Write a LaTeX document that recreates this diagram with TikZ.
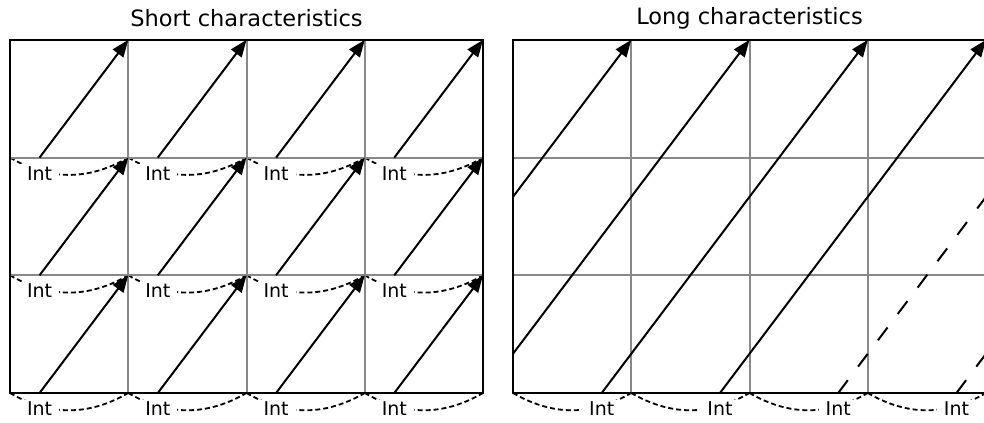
\documentclass[tikz,border=0pt]{standalone}
\usepackage{fontspec}
\setmainfont{DejaVu Sans}
\usetikzlibrary{arrows.meta}

\begin{document}
\begin{tikzpicture}[x=118.25pt,y=117.7pt,font=\fontsize{19}{20}\selectfont,
    charline/.style={line width=2pt,-{Triangle[length=17pt,width=13pt]}},
    charcont/.style={line width=2pt,dash pattern=on 16pt off 17pt},
    interp/.style={line width=1.8pt,dash pattern=on 5pt off 3pt,bend right=30},
    intlabel/.style={fill=white,inner xsep=7pt,inner ysep=2pt},
    gridline/.style={gline,line width=2pt},
    boxline/.style={black,line width=2pt},
    paneltitle/.style={font=\fontsize{22.5}{24}\selectfont}]
  \definecolor{gline}{HTML}{888888}
  \path[use as bounding box] (-0.0846,-0.2464) rectangle (8.2368,3.339);

  % short characteristics
  \node[paneltitle] (shorttitle) at (2,3.186) {Short characteristics};
  \foreach \j in {0,1,2}{
    \foreach \i in {0,...,3}{
      \coordinate (sl-\i-\j) at (\i,\j);
      \coordinate (sr-\i-\j) at (\i+1,\j);
      \coordinate (sf-\i-\j) at (\i+0.25,\j);
      \coordinate (st-\i-\j) at (\i+1,\j+1);
      \draw[interp] (sl-\i-\j) to (sr-\i-\j);
      \node[intlabel] (sint-\i-\j) at ([yshift=-15.5pt]sf-\i-\j) {Int};
    }
  }
  \foreach \i in {1,2,3} \draw[gridline] (\i,0) -- (\i,3);
  \foreach \j in {1,2} \draw[gridline] (0,\j) -- (4,\j);
  \draw[boxline] (0,0) rectangle (4,3);
  \foreach \j in {0,1,2}{
    \foreach \i in {0,...,3}
      \draw[charline] (sf-\i-\j) -- (st-\i-\j);
  }

  % long characteristics
  \begin{scope}[shift={(4.2537,0)}]
    \node[paneltitle] (longtitle) at (2,3.186) {Long characteristics};
    \foreach \i in {0,...,3}{
      \coordinate (ll-\i) at (\i,0);
      \coordinate (lr-\i) at (\i+1,0);
      \coordinate (lf-\i) at (\i+0.75,0);
      \draw[interp] (ll-\i) to (lr-\i);
      \node[intlabel] (lint-\i) at ([yshift=-15.5pt]lf-\i) {Int};
    }
    \foreach \i in {1,2,3} \draw[gridline] (\i,0) -- (\i,3);
    \foreach \j in {1,2} \draw[gridline] (0,\j) -- (4,\j);
    \draw[boxline] (0,0) rectangle (4,3);
    \coordinate (la) at (0,1.6667);
    \coordinate (lb) at (0,0.3333);
    \coordinate (le) at (4,1.6667);
    \coordinate (lg) at (4,0.3333);
    \foreach \k in {1,...,4} \coordinate (ltop-\k) at (\k,3);
    \draw[charline] (la) -- (ltop-1);
    \draw[charline] (lb) -- (ltop-2);
    \draw[charline] (lf-0) -- (ltop-3);
    \draw[charline] (lf-1) -- (ltop-4);
    \draw[charcont] (lf-2) -- (le);
    \draw[charcont] (lf-3) -- (lg);
  \end{scope}
\end{tikzpicture}
\end{document}
